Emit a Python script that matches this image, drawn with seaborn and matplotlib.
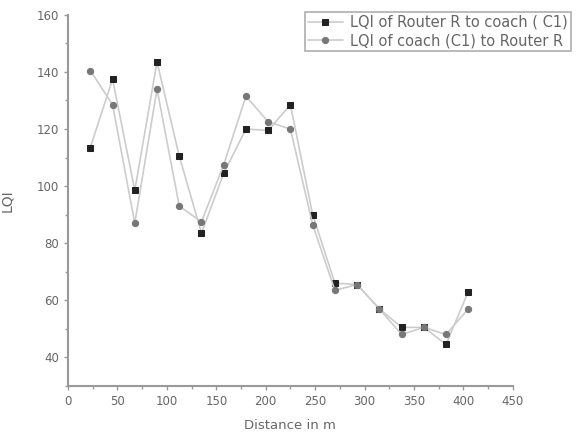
import matplotlib
matplotlib.use("Agg")
import matplotlib.pyplot as plt
import seaborn as sns
from matplotlib.ticker import MultipleLocator

# distance from router in m
distance = [22.5, 45, 67.5, 90, 112.5, 135, 157.5, 180, 202.5, 225,
            247.5, 270, 292.5, 315, 337.5, 360, 382.5, 405]
# LQI values
lqi_r_to_c1 = [113.5, 137.5, 98.5, 143.5, 110.5, 83.5, 104.5, 120, 119.5, 128.5,
               90, 66, 65.5, 57, 50.5, 50.5, 44.5, 63]
lqi_c1_to_r = [140.5, 128.5, 87, 134, 93, 87.5, 107.5, 131.5, 122.5, 120,
               86.5, 63.5, 65.5, 57, 48, 50.5, 48, 57]
label_1 = "LQI of Router R to coach ( C1)"
label_2 = "LQI of coach (C1) to Router R"

sns.set_style("white")
plt.rcParams['font.family'] = ['DejaVu Sans']
txt = '#666666'
axc = '#999999'

fig = plt.figure(figsize=(5.82, 4.37), dpi=100)
ax = fig.add_axes([0.117, 0.117, 0.764, 0.849])

sns.lineplot(x=distance, y=lqi_r_to_c1, ax=ax, color='#cccccc', lw=1.2,
             marker='s', markersize=5, markerfacecolor='#222222',
             markeredgecolor='#222222', label=label_1)
sns.lineplot(x=distance, y=lqi_c1_to_r, ax=ax, color='#cccccc', lw=1.2,
             marker='o', markersize=4.5, markerfacecolor='#777777',
             markeredgecolor='#777777', label=label_2)

ax.set_xlim(0, 450)
ax.set_ylim(30, 160)
ax.xaxis.set_major_locator(MultipleLocator(50))
ax.xaxis.set_minor_locator(MultipleLocator(25))
ax.yaxis.set_minor_locator(MultipleLocator(10))
ax.set_yticks([40, 60, 80, 100, 120, 140, 160])

for s in ['top', 'right']:
    ax.spines[s].set_visible(False)
for s in ['left', 'bottom']:
    ax.spines[s].set_color(axc)
    ax.spines[s].set_linewidth(1.5)

ax.tick_params(axis='both', which='major', direction='out', length=3,
               width=1, color=axc, labelsize=8.5, labelcolor=txt, left=True, bottom=True)
ax.tick_params(axis='both', which='minor', direction='out', length=2,
               width=1, color=axc, left=True, bottom=True)
ax.set_xlabel('Distance in m', fontsize=9.5, color=txt, labelpad=8)
ax.set_ylabel('LQI', fontsize=10, color=txt, labelpad=16)

leg = ax.legend(loc='upper left', bbox_to_anchor=(305 / 582, 1 - 12 / 437),
                bbox_transform=fig.transFigure, fontsize=10.5, frameon=True,
                fancybox=False, edgecolor=axc, handlelength=2.4,
                handletextpad=0.5, borderpad=0.2, labelspacing=0.25,
                borderaxespad=0)
leg.get_frame().set_linewidth(1.2)
for t in leg.get_texts():
    t.set_color(txt)

fig.savefig('out.png', dpi=100)
